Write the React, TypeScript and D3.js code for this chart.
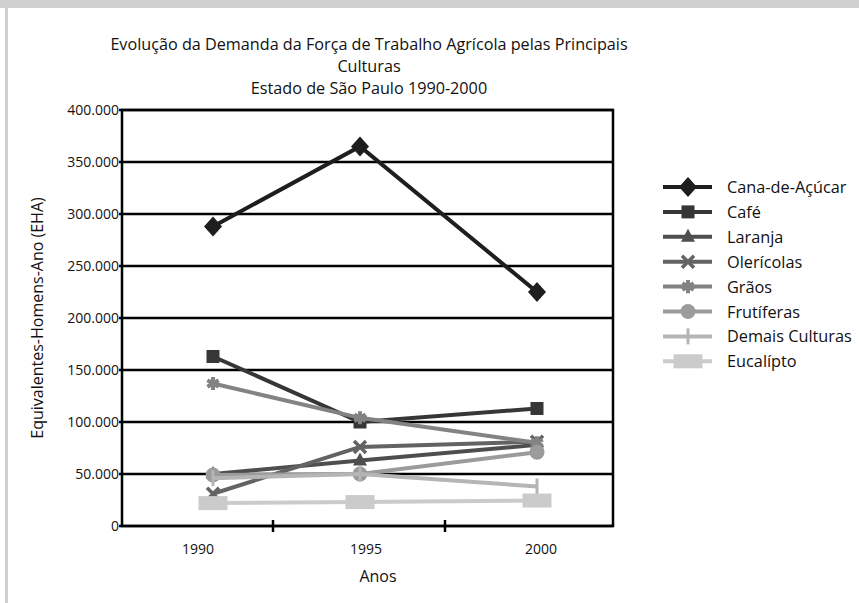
import * as d3 from "d3";

const years = [1990, 1995, 2000];
const seriesNames = [
  "Cana-de-Açúcar",
  "Café",
  "Laranja",
  "Olerícolas",
  "Grãos",
  "Frutíferas",
  "Demais Culturas",
  "Eucalípto",
];
const cana = [288000, 365000, 225000];
const cafe = [163000, 100000, 113000];
const laranja = [50000, 63000, 78000];
const olericolas = [31000, 76000, 81000];
const graos = [137000, 104000, 80000];
const frutiferas = [49000, 50000, 71000];
const demais = [46000, 50000, 38000];
const eucalipto = [22000, 23000, 24500];
const yTicks = [0, 50000, 100000, 150000, 200000, 250000, 300000, 350000, 400000];

const values = [cana, cafe, laranja, olericolas, graos, frutiferas, demais, eucalipto];
const colors = ["#1e1e1e", "#363636", "#4e4e4e", "#636363", "#838383", "#9b9b9b", "#b5b5b5", "#cbcbcb"];
const shapes = ["diamond", "square", "triangle", "x", "star", "circle", "bar", "rect"];

const FONT = "'Open Sans', sans-serif";

const W = 859;
const H = 603;
const left = 122;
const right = 613;
const top = 110;
const bottom = 526;

const y = d3.scaleLinear().domain([0, 400000]).range([bottom, top]);
// Excel placed the points a bit unevenly across the categories
const x = d3.scaleLinear().domain(years).range([213, 360, 537]);
const xLabel = d3.scaleLinear().domain(years).range([198, 366, 541]);
const xBound = d3.scaleLinear().domain([0, 1, 2, 3]).range([left, 273, 445, right]);

const fmt = d3.formatLocale({ decimal: ",", thousands: ".", grouping: [3], currency: ["R$", ""] }).format(",d");

function Marker({ shape, color, cx, cy }: { shape: string; color: string; cx: number; cy: number }) {
  switch (shape) {
    case "diamond":
      return <path d={`M${cx},${cy - 10}L${cx + 9},${cy}L${cx},${cy + 10}L${cx - 9},${cy}Z`} fill={color} />;
    case "square":
      return <rect x={cx - 6.5} y={cy - 6.5} width={13} height={13} fill={color} />;
    case "triangle":
      return <path d={`M${cx},${cy - 8}L${cx + 7},${cy + 5}L${cx - 7},${cy + 5}Z`} fill={color} />;
    case "x":
      return (
        <path
          d={`M${cx - 6},${cy - 6}L${cx + 6},${cy + 6}M${cx + 6},${cy - 6}L${cx - 6},${cy + 6}`}
          stroke={color}
          strokeWidth={3.5}
        />
      );
    case "star":
      return (
        <path
          d={d3.symbol(d3.symbolAsterisk, 120)()!}
          transform={`translate(${cx},${cy})`}
          stroke={color}
          strokeWidth={4}
        />
      );
    case "circle":
      return <circle cx={cx} cy={cy} r={7.5} fill={color} />;
    case "bar":
      return <rect x={cx - 1.5} y={cy - 8} width={3} height={16} fill={color} />;
    case "rect":
      return <rect x={cx - 14.5} y={cy - 7} width={29} height={14} fill={color} />;
  }
  return null;
}

export default function App() {
  const line = d3
    .line<number>()
    .x((_d, i) => x(years[i]))
    .y((d) => y(d));

  return (
    <svg width={W} height={H} style={{ position: "absolute", left: 0, top: 0, background: "#fff" }}>
      <rect x={0} y={0} width={W} height={H} fill="#fff" />
      {/* gray frame remnant */}
      <rect x={0} y={0} width={W} height={8} fill="#cfcfcf" />
      <rect x={5} y={0} width={3} height={H} fill="#cfcfcf" />

      <g fontFamily={FONT} fontSize={16.2} fill="#111" textAnchor="middle">
        <text x={369} y={50}>Evolução da Demanda da Força de Trabalho Agrícola pelas Principais</text>
        <text x={369} y={72}>Culturas</text>
        <text x={369} y={94}>Estado de São Paulo 1990-2000</text>
      </g>

      {/* grid */}
      {yTicks.map((t) => (
        <g key={t}>
          <line x1={left - 3} x2={right} y1={y(t)} y2={y(t)} stroke="#000" strokeWidth={2.5} />
          <text x={left - 3} y={y(t) + 5} textAnchor="end" fontFamily={FONT} fontSize={14} fill="#111">
            {fmt(t)}
          </text>
        </g>
      ))}
      <rect x={left} y={top} width={right - left} height={bottom - top} fill="none" stroke="#000" strokeWidth={2.5} />
      {[1, 2].map((i) => (
        <line key={i} x1={xBound(i)} x2={xBound(i)} y1={bottom - 6} y2={bottom + 6} stroke="#000" strokeWidth={2.5} />
      ))}
      {years.map((yr) => (
        <text key={yr} x={xLabel(yr)} y={bottom + 28} textAnchor="middle" fontFamily={FONT} fontSize={14} fill="#111">
          {yr}
        </text>
      ))}
      <text x={378} y={582} textAnchor="middle" fontFamily={FONT} fontSize={16} fill="#111">
        Anos
      </text>
      <text
        transform={`translate(43,318) rotate(-90)`}
        textAnchor="middle"
        fontFamily={FONT}
        fontSize={16}
        fill="#111"
      >
        Equivalentes-Homens-Ano (EHA)
      </text>

      {/* series */}
      {values.map((vals, s) => (
        <g key={seriesNames[s]}>
          <path d={line(vals)!} fill="none" stroke={colors[s]} strokeWidth={4} />
          {vals.map((v, i) => (
            <Marker key={i} shape={shapes[s]} color={colors[s]} cx={x(years[i])} cy={y(v)} />
          ))}
        </g>
      ))}

      {/* legend */}
      {seriesNames.map((name, s) => {
        const ly = 187 + s * 24.9;
        return (
          <g key={name}>
            <line x1={663} x2={712} y1={ly} y2={ly} stroke={colors[s]} strokeWidth={4} />
            <Marker shape={shapes[s]} color={colors[s]} cx={688} cy={ly} />
            <text x={727} y={ly + 6} fontFamily={FONT} fontSize={16.3} fill="#111">
              {name}
            </text>
          </g>
        );
      })}
    </svg>
  );
}
